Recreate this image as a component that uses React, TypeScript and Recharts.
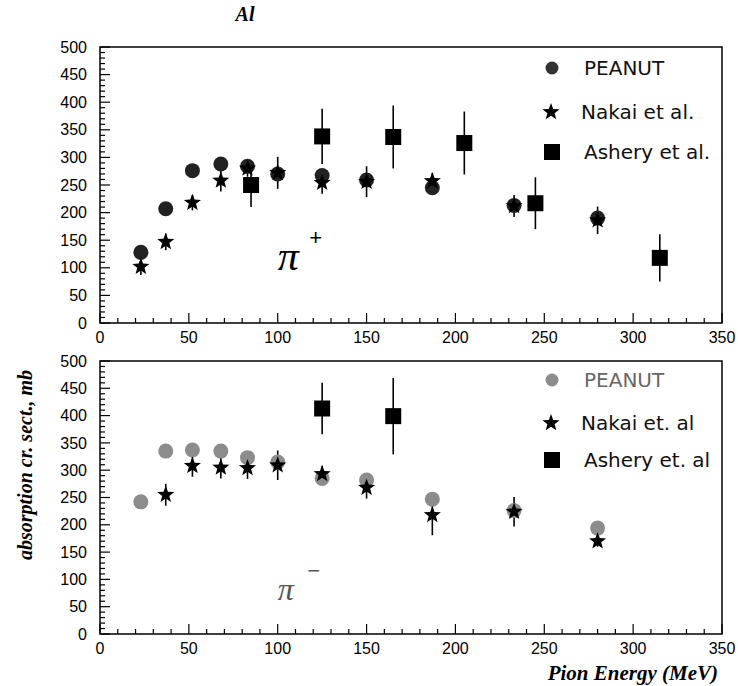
import React from 'react';
import { ScatterChart, Scatter, XAxis, YAxis, ErrorBar, ReferenceArea, ReferenceDot, Legend } from 'recharts';

// ---------- data ----------
const energyTicks = [0, 10, 20, 30, 40, 50, 60, 70, 80, 90, 100, 110, 120, 130, 140, 150, 160, 170, 180, 190, 200, 210, 220, 230, 240, 250, 260, 270, 280, 290, 300, 310, 320, 330, 340, 350];
const sigmaTicks = [0, 10, 20, 30, 40, 50, 60, 70, 80, 90, 100, 110, 120, 130, 140, 150, 160, 170, 180, 190, 200, 210, 220, 230, 240, 250, 260, 270, 280, 290, 300, 310, 320, 330, 340, 350, 360, 370, 380, 390, 400, 410, 420, 430, 440, 450, 460, 470, 480, 490, 500];

// pi+ panel
const peanutPlusE = [23, 37, 52, 68, 83, 100, 125, 150, 187, 233, 280];
const peanutPlusV = [128, 207, 276, 288, 284, 270, 267, 259, 245, 213, 190];
const nakaiPlusE = [23, 37, 52, 68, 83, 100, 125, 150, 187, 233, 280];
const nakaiPlusV = [102, 147, 218, 258, 280, 272, 254, 256, 257, 212, 186];
const nakaiPlusErr = [15, 15, 14, 20, 15, 29, 20, 28, 15, 20, 25];
const asheryPlusE = [85, 125, 165, 205, 245, 315];
const asheryPlusV = [250, 338, 337, 326, 217, 118];
const asheryPlusErr = [40, 50, 57, 57, 47, 43];

// pi- panel
const peanutMinusE = [23, 37, 52, 68, 83, 100, 125, 150, 187, 233, 280];
const peanutMinusV = [242, 335, 337, 335, 323, 315, 285, 282, 247, 226, 194];
const nakaiMinusE = [37, 52, 68, 83, 100, 125, 150, 187, 233, 280];
const nakaiMinusV = [255, 308, 305, 304, 309, 293, 268, 218, 224, 170];
const nakaiMinusErr = [20, 20, 20, 20, 27, 15, 20, 37, 27, 10];
const asheryMinusE = [125, 165];
const asheryMinusV = [413, 399];
const asheryMinusErr = [47, 70];

const legendPlus = ['PEANUT', 'Nakai et al.', 'Ashery et al.'];
const legendMinus = ['PEANUT', 'Nakai et. al', 'Ashery et. al'];

const build = (es: number[], vs: number[], errs?: number[]) =>
  es.map((e, i) => ({ e, v: vs[i], err: errs ? errs[i] : 0 }));

// ---------- styling ----------
const SANS = '"Liberation Sans", Arial, Helvetica, sans-serif';
const SERIF = '"Liberation Serif", "Times New Roman", serif';
const LEG = '"DejaVu Sans", sans-serif';
const XM = 9;
const YM = 13;

const starPts = (cx: number, cy: number, R: number, r: number) => {
  const pts: string[] = [];
  for (let i = 0; i < 10; i++) {
    const a = -Math.PI / 2 + (i * Math.PI) / 5;
    const rad = i % 2 === 0 ? R : r;
    pts.push(`${cx + rad * Math.cos(a)},${cy + rad * Math.sin(a)}`);
  }
  return pts.join(' ');
};

const circleShape = (color: string, r: number) => (p: any) =>
  p.cx == null ? <g /> : <circle cx={p.cx} cy={p.cy} r={r} fill={color} />;
const starShape = (p: any) =>
  p.cx == null ? <g /> : <polygon points={starPts(p.cx, p.cy, 9, 3.8)} fill="#000" />;
const squareShape = (p: any) =>
  p.cx == null ? <g /> : <rect x={p.cx - 8} y={p.cy - 8} width={16} height={16} fill="#000" />;

const XTick = (props: any) => {
  const { x, y, payload } = props;
  const v = payload.value;
  const major = v % 50 === 0;
  const y0 = y - XM;
  return (
    <g>
      <line x1={x} x2={x} y1={y0} y2={y0 - (major ? 10 : 5)} stroke="#000" strokeWidth={1.2} />
      {major && (
        <text x={x} y={y0 + 19.5} textAnchor="middle" fontFamily={SANS} fontSize={16} fill="#000">
          {v}
        </text>
      )}
    </g>
  );
};

const YTick = (props: any) => {
  const { x, y, payload } = props;
  const v = payload.value;
  const major = v % 50 === 0;
  const x0 = x + YM;
  return (
    <g>
      <line x1={x0} x2={x0 + (major ? 10 : 5)} y1={y} y2={y} stroke="#000" strokeWidth={1.2} />
      {major && (
        <text x={x0 - 13} y={y + 5.6} textAnchor="end" fontFamily={SANS} fontSize={16} fill="#000">
          {v}
        </text>
      )}
    </g>
  );
};

const makeLegend = (labels: string[], circleColor: string, firstTextColor: string, rows: number[]) => () => (
  <svg width={200} height={130} style={{ overflow: 'visible', display: 'block' }}>
    <circle cx={14} cy={rows[0]} r={6.5} fill={circleColor} />
    <polygon points={starPts(13, rows[1], 9, 3.8)} fill="#000" />
    <rect x={6} y={rows[2] - 8} width={16} height={16} fill="#000" />
    {labels.map((l, i) => (
      <text
        key={l}
        x={i === 1 ? 43 : 46}
        y={rows[i] + 7}
        fontFamily={LEG}
        fontSize={20}
        fill={i === 0 ? firstTextColor : '#111'}
      >
        {l}
      </text>
    ))}
  </svg>
);

const PiLabel = (sign: string, color: string, size: number, sx: number, sy: number) => (p: any) =>
  p.cx == null ? <g /> : (
    <g>
      <text x={p.cx} y={p.cy} fontFamily={SERIF} fontStyle="italic" fontSize={size} fill={color}>
        π
      </text>
      <text x={p.cx + sx} y={p.cy - sy} textAnchor="middle" fontFamily={SANS} fontSize={22} fill={color}>
        {sign}
      </text>
    </g>
  );

interface PanelProps {
  width: number;
  height: number;
  top: number;
  bottomAxisHeight: number;
  peanut: any[];
  nakai: any[];
  ashery: any[];
  peanutColor: string;
  legend: () => React.ReactElement;
  legendTop: number;
  pi: (p: any) => React.ReactElement;
  piX: number;
  piY: number;
}

const Panel = (p: PanelProps) => (
  <ScatterChart width={p.width} height={p.height} margin={{ top: p.top, right: 16, bottom: 0, left: 0 }}>
    <XAxis
      type="number"
      dataKey="e"
      domain={[0, 350]}
      ticks={energyTicks}
      interval={0}
      allowDataOverflow
      height={p.bottomAxisHeight}
      tickSize={0}
      tickMargin={XM}
      tickLine={false}
      axisLine={false}
      tick={<XTick />}
    />
    <YAxis
      type="number"
      dataKey="v"
      domain={[0, 500]}
      ticks={sigmaTicks}
      interval={0}
      allowDataOverflow
      width={100}
      tickSize={0}
      tickMargin={YM}
      tickLine={false}
      axisLine={false}
      tick={<YTick />}
    />
    <ReferenceArea x1={0} x2={350} y1={0} y2={500} fill="none" stroke="#000" strokeWidth={1.5} fillOpacity={0} />
    <ReferenceDot x={p.piX} y={p.piY} r={0} shape={p.pi} />
    <Scatter data={p.peanut} shape={circleShape(p.peanutColor, 7.5)} isAnimationActive={false} />
    <Scatter data={p.nakai} shape={starShape} isAnimationActive={false}>
      <ErrorBar dataKey="err" direction="y" width={0} stroke="#000" strokeWidth={1.6} />
    </Scatter>
    <Scatter data={p.ashery} shape={squareShape} isAnimationActive={false}>
      <ErrorBar dataKey="err" direction="y" width={0} stroke="#000" strokeWidth={1.6} />
    </Scatter>
    <Legend
      layout="vertical"
      align="center"
      verticalAlign="middle"
      content={p.legend}
      wrapperStyle={{ left: 538, top: p.legendTop, width: 200, height: 130 }}
    />
  </ScatterChart>
);

export default function App() {
  return (
    <div style={{ position: 'absolute', left: 0, top: 0, width: 738, height: 686, background: '#fff' }}>
      <svg width={738} height={686} style={{ position: 'absolute', left: 0, top: 0 }}>
        <text x={245} y={21} textAnchor="middle" fontFamily={SERIF} fontStyle="italic" fontWeight="bold" fontSize={20}>
          Al
        </text>
        <text
          x={0}
          y={0}
          transform="translate(32,465) rotate(-90)"
          textAnchor="middle"
          fontFamily={SERIF}
          fontStyle="italic"
          fontWeight="bold"
          fontSize={20}
        >
          absorption cr. sect., mb
        </text>
        <text x={718} y={680} textAnchor="end" fontFamily={SERIF} fontStyle="italic" fontWeight="bold" fontSize={21}>
          Pion Energy (MeV)
        </text>
      </svg>
      <div style={{ position: 'absolute', left: 0, top: 0 }}>
        <Panel
          width={738}
          height={345}
          top={47}
          bottomAxisHeight={22}
          peanut={build(peanutPlusE, peanutPlusV)}
          nakai={build(nakaiPlusE, nakaiPlusV, nakaiPlusErr)}
          ashery={build(asheryPlusE, asheryPlusV, asheryPlusErr)}
          peanutColor="#222"
          legend={makeLegend(legendPlus, '#333', '#111', [18, 62, 102])}
          legendTop={50}
          pi={PiLabel('+', '#000', 42, 38, 25)}
          piX={100}
          piY={96}
        />
      </div>
      <div style={{ position: 'absolute', left: 0, top: 345 }}>
        <Panel
          width={738}
          height={341}
          top={16}
          bottomAxisHeight={52}
          peanut={build(peanutMinusE, peanutMinusV)}
          nakai={build(nakaiMinusE, nakaiMinusV, nakaiMinusErr)}
          ashery={build(asheryMinusE, asheryMinusV, asheryMinusErr)}
          peanutColor="#8c8c8c"
          legend={makeLegend(legendMinus, '#8c8c8c', '#666', [18, 61, 98])}
          legendTop={17}
          pi={PiLabel('\u2212', '#555', 32, 36, 22)}
          piX={100}
          piY={62}
        />
      </div>
    </div>
  );
}
